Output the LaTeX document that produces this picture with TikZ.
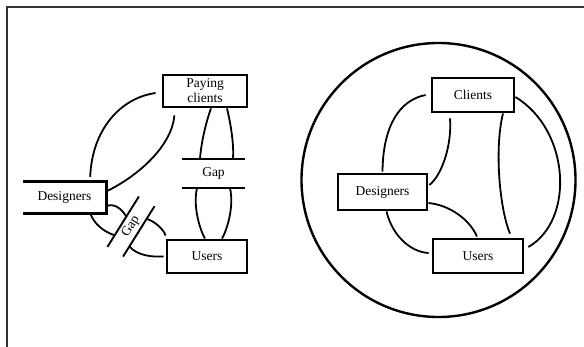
\documentclass[tikz,border=0pt]{standalone}
\usepackage{fontspec}
\setmainfont{Liberation Serif}
\usetikzlibrary{calc}
\tikzset{
  lbl/.style={inner sep=0pt, align=center, font=\fontsize{13.5}{15}\selectfont},
  box/.style={lbl, draw, line width=2.8pt},
  link/.style={line width=1.8pt},
  bar/.style={line width=1.9pt}
}

\begin{document}
\begin{tikzpicture}[x=1pt, y=-1pt]
    \useasboundingbox (0,0) rectangle (584,347);
    \draw[line width=2pt, black!80] (584,7) -- (7,7) -- (7,347);

    \node[box, minimum width=84pt, minimum height=32pt] (pay) at (205,91) {Paying\\clients};
    \node[lbl, minimum width=83pt, minimum height=31pt] (des) at (64.5,197.5) {Designers};
    \draw[line width=2.8pt] (des.north west) -- (des.north east) -- (des.south east) -- (des.south west);
    \node[box, minimum width=80pt, minimum height=33pt] (usr) at (207,256.5) {Users};

    \node[lbl, minimum width=63pt, minimum height=29pt] (gapv) at (213.5,173.5) {Gap};
    \draw[bar] (gapv.north west) -- (gapv.north east);
    \draw[bar] (gapv.south west) -- (gapv.south east);
    \node[lbl, rotate=58, minimum width=59pt, minimum height=18pt] (gapd) at (131,226.5) {Gap};
    \draw[bar] (gapd.north west) -- (gapd.north east);
    \draw[bar] (gapd.south west) -- (gapd.south east);

    \draw[link] ([xshift=-16pt,yshift=5pt]des.north east) .. controls (92,130) and (120,98) .. ([xshift=-6pt,yshift=-2pt]pay.west);
    \draw[link] ([yshift=6pt]des.east) .. controls (140,175) and (172,145) .. ([xshift=-74pt,yshift=-7pt]pay.south east);
    \draw[link] ([xshift=6pt]pay.south) .. controls (205,125) and (201,145) .. ([xshift=-13.5pt]gapv.north);
    \draw[link] ([xshift=22pt]pay.south) .. controls (231,125) and (234,145) .. ([xshift=19.5pt]gapv.north);
    \draw[link] ([xshift=-16.5pt]gapv.south) .. controls (193,205) and (199,228) .. ([xshift=-2pt]usr.north);
    \draw[link] ([xshift=16.5pt]gapv.south) .. controls (234,205) and (228,228) .. ([xshift=15pt]usr.north);
    \draw[link] ([yshift=7pt]des.south east) .. controls (114,203) and (121,208) .. ($(gapd.north west)!0.6!(gapd.north east)$);
    \draw[link] ($(gapd.south west)!0.75!(gapd.south east)$) .. controls (156,222) and (164,230) .. ([yshift=3pt]usr.north west);
    \draw[link] ([xshift=-16pt]des.south east) .. controls (94,224) and (104,232) .. ($(gapd.north west)!0.23!(gapd.north east)$);
    \draw[link] ($(gapd.south west)!0.2!(gapd.south east)$) .. controls (138,256) and (152,257) .. ([xshift=-2pt]usr.west);

    \draw[line width=2.4pt] (438.5,180) circle (137pt);
    \node[box, minimum width=82pt, minimum height=34pt] (cli) at (473,95) {Clients};
    \node[box, minimum width=89pt, minimum height=36pt] (des2) at (382.5,192) {Designers};
    \node[box, minimum width=90pt, minimum height=34pt] (usr2) at (478,256) {Users};

    \draw[link] ([xshift=-5pt]cli.west) .. controls (400,100) and (383,125) .. ([yshift=1pt]des2.north);
    \draw[link] ([xshift=-23pt,yshift=-5pt]cli.south) .. controls (452,145) and (442,175) .. ([xshift=1pt,yshift=7pt]des2.east);
    \draw[link] ([xshift=30pt]cli.south) .. controls (494,150) and (500,210) .. ([xshift=32pt,yshift=4pt]usr2.north);
    \draw[link] ([yshift=-2pt]cli.east) .. controls (570,130) and (575,220) .. ([xshift=4pt,yshift=9pt]usr2.east);
    \draw[link] ([yshift=-11pt]des2.east) .. controls (450,205) and (470,220) .. ([xshift=-1pt,yshift=1pt]usr2.north);
    \draw[link] ([xshift=4pt]des2.south) .. controls (392,235) and (410,252) .. ([xshift=-3pt,yshift=3pt]usr2.west);
\end{tikzpicture}
\end{document}
